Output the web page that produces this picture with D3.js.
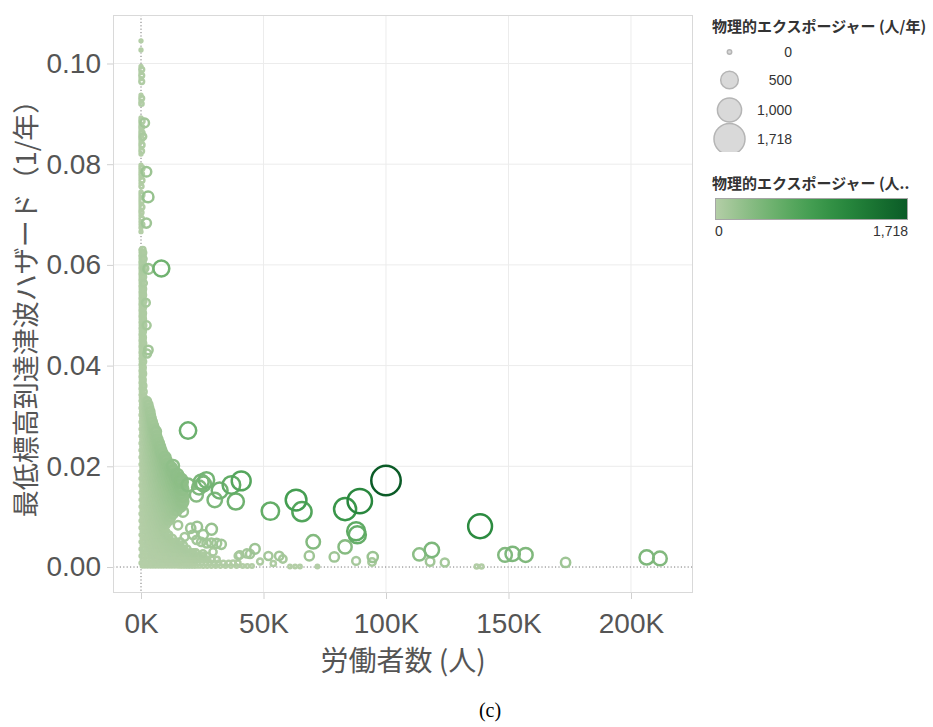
<!DOCTYPE html>
<html>
<head>
<meta charset="utf-8">
<script src="https://cdn.jsdelivr.net/npm/d3@7"></script>
<style>
  body { margin: 0; background: #fff; }
  svg { display: block; }
</style>
</head>
<body>
<svg id="chart" width="933" height="727"></svg>
<script>
// ---- data --------------------------------------------------------------
// Axis ticks
const xTicks = [0, 50000, 100000, 150000, 200000];
const yTicks = [0, 0.02, 0.04, 0.06, 0.08, 0.10];
// Size / colour legend
const sizeLegendValues = [0, 500, 1000, 1718];
const exposureMax = 1718;

// Upper part of the near-zero-worker strip: [workers (thousands), hazard (1/yr)]
const ridgePoints = [
  [0,0.1045],[0,0.1027],
  [0,0.0994],[0.3,0.0988],[0,0.0982],[0.3,0.0976],[0,0.0970],[0.3,0.0964],
  [0,0.0937],[0.3,0.0931],[0,0.0925],[0.2,0.0920],
  [0,0.0892],[0.4,0.0886],[0,0.0880],[0.3,0.0874],[0,0.0868],[0.4,0.0862],[0,0.0856],
  [0.3,0.0850],[0,0.0844],[0.4,0.0838],[0,0.0832],[0.3,0.0826],[0,0.0820],
  [0,0.0798],[0.4,0.0792],[0,0.0786],[0.3,0.0780],[0,0.0774],[0.4,0.0768],[0,0.0762],[0.2,0.0756],
  [0,0.0745],[0.4,0.0739],[0,0.0733],[0.3,0.0727],[0,0.0721],[0.4,0.0715],[0,0.0709],[0.2,0.0704],
  [0,0.0698],[0.3,0.0692],[0,0.0686],[0.4,0.0680],[0,0.0674],[0,0.0666]
];

// Dense group of small sites: [hazard, [workers (thousands), ...]]
const clusterRows = [
  [0.0630,[0,0.7]],[0.0624,[0.3,0.9]],[0.0618,[0,0.7]],[0.0612,[0.3,1.0]],[0.0606,[0,0.7]],
  [0.0600,[0.3,0.9]],[0.0594,[0,0.7]],[0.0588,[0.3,1.0]],[0.0582,[0,0.7]],[0.0576,[0.3,0.9]],
  [0.0570,[0,0.7]],[0.0564,[0.3,1.1]],[0.0558,[0,0.7]],[0.0552,[0.3,0.9]],[0.0546,[0,0.8]],
  [0.0540,[0.3,0.9]],[0.0534,[0,0.7]],[0.0528,[0.3,1.0]],[0.0522,[0,0.7]],[0.0516,[0.3,0.9]],
  [0.0510,[0,0.7]],[0.0504,[0.3,0.9]],[0.0498,[0,0.8]],[0.0492,[0.3,0.9]],[0.0486,[0,0.7]],
  [0.0480,[0.3,1.0]],[0.0474,[0,0.7]],[0.0468,[0.3,0.9]],[0.0462,[0,0.7]],[0.0456,[0.3,0.9]],
  [0.0450,[0,0.8]],[0.0444,[0.3,1.0]],[0.0438,[0,0.7]],[0.0432,[0.3,0.9]],[0.0426,[0,0.7]],
  [0.0420,[0.3,0.9]],[0.0414,[0,0.7]],[0.0408,[0.3,1.0]],[0.0402,[0,0.7]],[0.0396,[0.3,0.9]],
  [0.0390,[0,0.8]],[0.0384,[0.3,1.0]],[0.0378,[0,0.7]],[0.0372,[0.3,0.9]],[0.0366,[0,0.8]],
  [0.0360,[0.3,1.1]],[0.0354,[0,0.8]],[0.0348,[0.3,1.2]],[0.0342,[0,0.9]],[0.0336,[0.3,1.3]],
  [0.0330, [0, 0.9, 1.8, 2.6]],
  [0.0323, [0.4, 1.3, 2.2, 3.1]],
  [0.0316, [0, 0.9, 1.8, 2.7, 3.4]],
  [0.0309, [0.4, 1.3, 2.2, 3.1, 3.8]],
  [0.0302, [0, 1.0, 2.0, 3.0, 4.0]],
  [0.0295, [0.5, 1.5, 2.5, 3.5, 4.3]],
  [0.0288, [0, 1.0, 2.0, 3.0, 4.0, 4.7]],
  [0.0281, [0.5, 1.5, 2.5, 3.5, 4.5, 5.1]],
  [0.0274, [0, 1.0, 2.0, 3.0, 4.0, 5.0, 5.6]],
  [0.0267, [0.5, 1.5, 2.5, 3.5, 4.5, 5.3]],
  [0.0260, [0, 1.1, 2.2, 3.3, 4.4, 5.5, 6.3]],
  [0.0253, [0.5, 1.6, 2.7, 3.8, 4.9, 6.0, 6.8]],
  [0.0246, [0, 1.1, 2.2, 3.3, 4.4, 5.5, 6.6, 7.3]],
  [0.0239, [0.5, 1.6, 2.7, 3.8, 4.9, 6.0, 7.1, 7.8]],
  [0.0232, [0, 1.1, 2.2, 3.3, 4.4, 5.5, 6.6, 7.7, 8.2]],
  [0.0225, [0.5, 1.6, 2.7, 3.8, 4.9, 6.0, 7.1, 8.2, 8.8]],
  [0.0218, [0, 1.1, 2.2, 3.3, 4.4, 5.5, 6.6, 7.7, 8.8, 9.8]],
  [0.0211, [0.5, 1.6, 2.7, 3.8, 4.9, 6.0, 7.1, 8.2, 9.3, 10.3]],
  [0.0204, [0, 1.1, 2.2, 3.3, 4.4, 5.5, 6.6, 7.7, 8.8, 9.9, 11.0]],
  [0.0197, [0.5, 1.6, 2.7, 3.8, 4.9, 6.0, 7.1, 8.2, 9.3, 10.4, 11.5, 12.3]],
  [0.0190, [0, 1.1, 2.2, 3.3, 4.4, 5.5, 6.6, 7.7, 8.8, 9.9, 11.0, 12.1, 13.2]],
  [0.0183, [0.5, 1.6, 2.7, 3.8, 4.9, 6.0, 7.1, 8.2, 9.3, 10.4, 11.5, 12.6, 13.7, 14.8]],
  [0.0176, [0, 1.1, 2.2, 3.3, 4.4, 5.5, 6.6, 7.7, 8.8, 9.9, 11.0, 12.1, 13.2, 14.3, 15.4]],
  [0.0169, [0.5, 1.6, 2.7, 3.8, 4.9, 6.0, 7.1, 8.2, 9.3, 10.4, 11.5, 12.6, 13.7, 14.8, 15.8]],
  [0.0162, [0, 1.1, 2.2, 3.3, 4.4, 5.5, 6.6, 7.7, 8.8, 9.9, 11.0, 12.1, 13.2, 14.3, 15.4, 16.4]],
  [0.0155, [0.5, 1.6, 2.7, 3.8, 4.9, 6.0, 7.1, 8.2, 9.3, 10.4, 11.5, 12.6, 13.7, 14.8, 15.9, 16.9]],
  [0.0148, [0, 1.1, 2.2, 3.3, 4.4, 5.5, 6.6, 7.7, 8.8, 9.9, 11.0, 12.1, 13.2, 14.3, 15.4, 16.5]],
  [0.0141, [0.5, 1.6, 2.7, 3.8, 4.9, 6.0, 7.1, 8.2, 9.3, 10.4, 11.5, 12.6, 13.7, 14.8, 15.9, 17.0]],
  [0.0134, [0, 1.1, 2.2, 3.3, 4.4, 5.5, 6.6, 7.7, 8.8, 9.9, 11.0, 12.1, 13.2, 14.3, 15.4, 16.5]],
  [0.0127, [0.5, 1.6, 2.7, 3.8, 4.9, 6.0, 7.1, 8.2, 9.3, 10.4, 11.5, 12.6, 13.7, 14.8, 15.9, 16.8]],
  [0.0120, [0, 1.1, 2.2, 3.3, 4.4, 5.5, 6.6, 7.7, 8.8, 9.9, 11.0, 12.1, 13.2, 14.3, 15.4, 16.2]],
  [0.0113, [0.5, 1.6, 2.7, 3.8, 4.9, 6.0, 7.1, 8.2, 9.3, 10.4, 11.5, 12.6, 13.7, 14.8]],
  [0.0106, [0, 1.1, 2.2, 3.3, 4.4, 5.5, 6.6, 7.7, 8.8, 9.9, 11.0, 12.1, 13.2]],
  [0.0099, [0.5, 1.6, 2.7, 3.8, 4.9, 6.0, 7.1, 8.2, 9.3, 10.4, 11.5, 12.3]],
  [0.0092, [0, 1.1, 2.2, 3.3, 4.4, 5.5, 6.6, 7.7, 8.8, 9.9, 11.0, 11.6]],
  [0.0085, [0.5, 1.6, 2.7, 3.8, 4.9, 6.0, 7.1, 8.2, 9.3, 10.4]],
  [0.0078, [0, 1.1, 2.2, 3.3, 4.4, 5.5, 6.6, 7.7, 8.8, 9.5]],
  [0.0071, [0.5, 1.6, 2.7, 3.8, 4.9, 6.0, 7.1, 8.2, 9.3, 10.1]],
  [0.0064, [0, 1.1, 2.2, 3.3, 4.4, 5.5, 6.6, 7.7, 8.8, 9.9, 11.0, 11.4]],
  [0.0057, [0.5, 1.6, 2.7, 3.8, 4.9, 6.0, 7.1, 8.2, 9.3, 10.4, 11.5, 12.9]],
  [0.0050, [0, 1.1, 2.2, 3.3, 4.4, 5.5, 6.6, 7.7, 8.8, 9.9, 11.0, 12.1, 13.2, 14.4, 16.1]],
  [0.0043, [0.5, 1.6, 2.7, 3.8, 4.9, 6.0, 7.1, 8.2, 9.3, 10.4, 11.5, 12.6, 13.7, 14.8, 15.9, 17.4]],
  [0.0036, [0, 1.1, 2.2, 3.3, 4.4, 5.5, 6.6, 7.7, 8.8, 9.9, 11.0, 12.1, 13.2, 14.3, 15.4, 16.5, 17.6, 18.9]],
  [0.0029, [0.5, 1.6, 2.7, 3.8, 4.9, 6.0, 7.1, 8.2, 9.3, 10.4, 11.5, 12.6, 13.7, 14.8, 15.9, 17.0, 18.1, 19.2, 20.3, 21.4, 22.4]],
  [0.0022, [0, 1.1, 2.2, 3.3, 4.4, 5.5, 6.6, 7.7, 8.8, 9.9, 11.0, 12.1, 13.2, 14.3, 15.4, 16.5, 17.6, 18.7, 19.8, 20.9, 22.0, 23.8, 25.4, 26.9]],
  [0.0015, [0.5, 1.6, 2.7, 3.8, 4.9, 6.0, 7.1, 8.2, 9.3, 10.4, 11.5, 12.6, 13.7, 14.8, 15.9, 17.0, 18.1, 19.2, 20.3, 21.4, 22.5, 24.0, 25.6, 27.2, 28.9, 31.0]],
  [0.0008, [0, 1.1, 2.2, 3.3, 4.4, 5.5, 6.6, 7.7, 8.8, 9.9, 11.0, 12.1, 13.2, 14.3, 15.4, 16.5, 17.6, 18.7, 19.8, 20.9, 22.0, 23.4, 24.9, 26.5, 28.1, 29.8, 31.6, 33.6, 35.8, 37.6, 39.6]],
  [0.0002, [0.5, 1.6, 2.7, 3.8, 4.9, 6.0, 7.1, 8.2, 9.3, 10.4, 11.5, 12.6, 13.7, 14.8, 15.9, 17.0, 18.1, 19.2, 20.3, 21.4, 22.5, 23.9, 25.4, 27.0, 28.7, 30.5, 32.4, 34.5, 36.7, 39.0, 41.5, 43.4, 45.3]]
];

// Individually placed sites: [workers (thousands), hazard (1/yr)]
const spreadPoints = [
  [1.5,0.0882],[0.8,0.0855],[2.2,0.0785],[2.9,0.0735],[2.2,0.0683],[1.5,0.0593],[3.0,0.0592],
  [8.3,0.0593],[2.0,0.0525],[2.3,0.0480],[3.0,0.0431],[2.5,0.0424],[2.3,0.0312],
  [6.2,0.0269],[6.9,0.0232],
  [19.2,0.0271],[13.1,0.0201],[9.0,0.0183],[16.4,0.0173],[16.6,0.0169],[19.2,0.0163],
  [17.1,0.0130],[17.1,0.0110],[15.1,0.0083],[17.8,0.0060],
  [24.6,0.0169],[26.7,0.0173],[25.5,0.0165],[23.7,0.0158],[22.6,0.0143],[30.1,0.0133],
  [32.1,0.0152],[36.9,0.0163],[40.9,0.0171],[38.7,0.0130],
  [20.3,0.0077],[22.9,0.0080],[28.8,0.0075],[21.2,0.0064],[25.4,0.0064],[22.7,0.0054],
  [24.6,0.0050],[26.8,0.0047],[28.7,0.0048],[30.9,0.0047],[32.8,0.0045],[21.2,0.0027],
  [25.3,0.0027],[29.4,0.0030],[39.7,0.0022],[40.3,0.0024],[43.2,0.0027],[44.5,0.0026],
  [46.5,0.0036],[48.6,0.0011],[52.0,0.0022],[54.0,0.0007],[56.4,0.0022],[57.9,0.0016],
  [60.8,0.0001],[62.9,0.0001],[64.9,0.0001],[68.7,0.0022],[72.0,0.0001],[78.9,0.0020],
  [87.8,0.0012],[94.6,0.0020],[94.3,0.0010],
  [52.8,0.0111],[63.3,0.0133],[65.7,0.0110],[83.3,0.0115],[89.3,0.0131],[100.0,0.01718],
  [70.3,0.0050],[83.3,0.0040],[87.8,0.0071],[88.3,0.0064],[138.4,0.0081],
  [113.6,0.0025],[118.7,0.0034],[118.0,0.0011],[124.0,0.0009],[137.0,0.0001],[139.0,0.0001],
  [148.6,0.0024],[151.7,0.0026],[157.0,0.0024],[173.3,0.0009],[206.4,0.0019],[211.8,0.0017]
];

// ---- build records -----------------------------------------------------
// exposure (人/年) = workers (人) × hazard (1/年)
const toRecord = (k, h) => ({ workers: k * 1000, hazard: h, exposure: k * 1000 * h });
const points = [
  ...ridgePoints.map(([k, h]) => toRecord(k, h)),
  ...clusterRows.flatMap(([h, ks]) => ks.map(k => toRecord(k, h))),
  ...spreadPoints.map(([k, h]) => toRecord(k, h))
].sort((a, b) => a.exposure - b.exposure);

// ---- layout ------------------------------------------------------------
const plot = { left: 113, right: 693, top: 15, bottom: 593 };
const tickFont = "'Liberation Sans', Arial, sans-serif";
const cjkFont = "'Noto Sans CJK JP', 'Liberation Sans', sans-serif";

const svg = d3.select("#chart");
svg.append("rect").attr("width", 933).attr("height", 727).attr("fill", "#fff");

const x = d3.scaleLinear().domain([-11430, 225310]).range([plot.left, plot.right]);
const y = d3.scaleLinear().domain([-0.00516, 0.10963]).range([plot.bottom, plot.top]);

const size = v => Math.sqrt(2 + 0.125 * v);
const color = d3.scaleSequential(
  d3.interpolateRgbBasis(["#b4cea7", "#78b575", "#3f9e4e", "#1f7f37", "#0b5b27"])
).domain([0, exposureMax]);

// gridlines
const grid = svg.append("g");
grid.selectAll("line.gx").data(xTicks.filter(d => d !== 0)).join("line")
  .attr("x1", d => x(d)).attr("x2", d => x(d))
  .attr("y1", plot.top).attr("y2", plot.bottom)
  .attr("stroke", "#ececec").attr("stroke-width", 1);
grid.selectAll("line.gy").data(yTicks.filter(d => d !== 0)).join("line")
  .attr("x1", plot.left).attr("x2", plot.right)
  .attr("y1", d => y(d)).attr("y2", d => y(d))
  .attr("stroke", "#ececec").attr("stroke-width", 1);

// zero lines
grid.append("line")
  .attr("x1", x(0)).attr("x2", x(0)).attr("y1", plot.top).attr("y2", plot.bottom)
  .attr("stroke", "#777").attr("stroke-width", 1).attr("stroke-dasharray", "1.2,2.2");
grid.append("line")
  .attr("x1", plot.left).attr("x2", plot.right).attr("y1", y(0)).attr("y2", y(0))
  .attr("stroke", "#777").attr("stroke-width", 1).attr("stroke-dasharray", "1.2,2.2");

// frame
svg.append("rect")
  .attr("x", plot.left + 0.5).attr("y", plot.top + 0.5)
  .attr("width", plot.right - plot.left - 1).attr("height", plot.bottom - plot.top - 1)
  .attr("fill", "none").attr("stroke", "#d9d9d9");

// axes
const xAxis = svg.append("g").attr("transform", `translate(0,${plot.bottom})`)
  .call(d3.axisBottom(x).tickValues(xTicks).tickFormat(d => d / 1000 + "K")
    .tickSize(6).tickPadding(14));
const yAxis = svg.append("g").attr("transform", `translate(${plot.left},0)`)
  .call(d3.axisLeft(y).tickValues(yTicks).tickFormat(d3.format(".2f"))
    .tickSize(6).tickPadding(6));
[xAxis, yAxis].forEach(g => {
  g.select(".domain").remove();
  g.selectAll(".tick line").attr("stroke", "#d0d0d0");
  g.selectAll(".tick text").attr("fill", "#555")
    .style("font-family", tickFont).style("font-size", "28px");
});

// marks
svg.append("clipPath").attr("id", "plotClip").append("rect")
  .attr("x", plot.left).attr("y", plot.top)
  .attr("width", plot.right - plot.left).attr("height", plot.bottom - plot.top);
svg.append("g").attr("clip-path", "url(#plotClip)")
  .selectAll("circle").data(points).join("circle")
  .attr("cx", d => x(d.workers))
  .attr("cy", d => y(d.hazard))
  .attr("r", d => size(d.exposure))
  .attr("fill", "none")
  .attr("stroke", d => color(d.exposure))
  .attr("stroke-width", 2.5);

// axis titles
svg.append("text")
  .attr("x", (plot.left + plot.right) / 2).attr("y", 671)
  .attr("text-anchor", "middle").attr("fill", "#555")
  .style("font-family", cjkFont).style("font-size", "28px")
  .text("労働者数 (人)");
svg.append("text")
  .attr("transform", "translate(36,302) rotate(-90)")
  .attr("text-anchor", "middle").attr("fill", "#555")
  .style("font-family", cjkFont).style("font-size", "27px")
  .text("最低標高到達津波ハザード（1/年）");

// caption
svg.append("text")
  .attr("x", 490).attr("y", 717).attr("text-anchor", "middle").attr("fill", "#000")
  .style("font-family", "'Liberation Serif', 'Times New Roman', serif").style("font-size", "20px")
  .text("(c)");

// ---- legends -----------------------------------------------------------
const legend = svg.append("g");
legend.append("text")
  .attr("x", 712).attr("y", 32).attr("fill", "#333")
  .style("font-family", cjkFont).style("font-size", "15px").style("font-weight", "bold")
  .text("物理的エクスポージャー (人/年)");

const legendRows = [52, 80, 110, 139];
legend.append("clipPath").attr("id", "sizeClip").append("rect")
  .attr("x", 700).attr("y", 40).attr("width", 120).attr("height", 112);
legend.append("g").attr("clip-path", "url(#sizeClip)")
  .selectAll("circle").data(sizeLegendValues).join("circle")
  .attr("cx", 729.5).attr("cy", (d, i) => legendRows[i])
  .attr("r", d => size(d) + 0.8)
  .attr("fill", "#d9d9d9").attr("stroke", "#b5b5b5").attr("stroke-width", 1.5);
legend.selectAll("text.sz").data(sizeLegendValues).join("text")
  .attr("class", "sz")
  .attr("x", 792).attr("y", (d, i) => legendRows[i] + 5)
  .attr("text-anchor", "end").attr("fill", "#333")
  .style("font-family", tickFont).style("font-size", "14px")
  .text(d => d3.format(",")(d));

legend.append("text")
  .attr("x", 712).attr("y", 189).attr("fill", "#333")
  .style("font-family", cjkFont).style("font-size", "15px").style("font-weight", "bold")
  .text("物理的エクスポージャー (人..");

const grad = svg.append("defs").append("linearGradient").attr("id", "expGrad");
d3.range(0, 1.0001, 0.1).forEach(t => {
  grad.append("stop").attr("offset", t).attr("stop-color", color(t * exposureMax));
});
legend.append("rect")
  .attr("x", 715.5).attr("y", 198.5).attr("width", 192).attr("height", 21)
  .attr("fill", "url(#expGrad)").attr("stroke", "#a6a6a6");
legend.append("text")
  .attr("x", 715).attr("y", 236).attr("fill", "#333")
  .style("font-family", tickFont).style("font-size", "14px").text("0");
legend.append("text")
  .attr("x", 908).attr("y", 236).attr("text-anchor", "end").attr("fill", "#333")
  .style("font-family", tickFont).style("font-size", "14px").text(d3.format(",")(exposureMax));
</script>
</body>
</html>
